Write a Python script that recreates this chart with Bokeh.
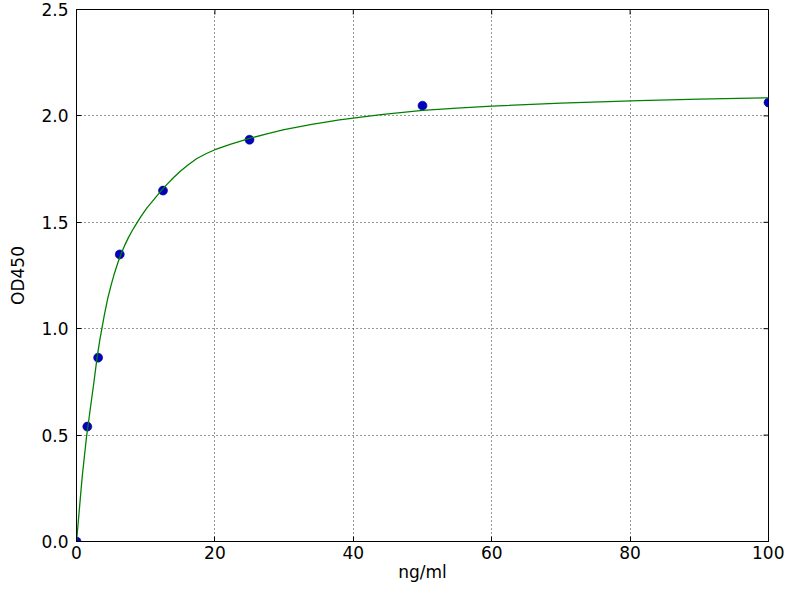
import math
from bokeh.plotting import figure
from bokeh.models import Range1d, FixedTicker, PrintfTickFormatter
from bokeh.embed import file_html
from bokeh.resources import INLINE

# Measured standards
conc = [0, 1.5625, 3.125, 6.25, 12.5, 25, 50, 100]
od = [0.0, 0.540, 0.864, 1.349, 1.649, 1.888, 2.048, 2.063]

# Fitted curve
fit_x = [0, 0.1, 0.45, 0.82, 1.44, 2.0, 2.5, 2.98, 3.36, 4.0, 4.5, 5.0, 5.5,
         6.0, 6.5, 7.0, 7.5, 8.0, 8.6, 9.3, 10.18, 11.2, 12.1, 13.0, 14.0,
         15.0, 16.2, 17.4, 18.7, 20.0, 22.2, 25.0, 27.5, 30.0, 34.0, 38.0,
         44.0, 50.0, 55.0, 60.0, 70.0, 81.3, 90.0, 100.0]
fit_y = [0.0, 0.035, 0.165, 0.303, 0.49, 0.625, 0.745, 0.865, 0.945, 1.06,
         1.14, 1.205, 1.262, 1.312, 1.356, 1.394, 1.428, 1.458, 1.49, 1.527,
         1.568, 1.608, 1.643, 1.676, 1.709, 1.740, 1.772, 1.80, 1.822, 1.841,
         1.866, 1.894, 1.916, 1.935, 1.960, 1.981, 2.006, 2.026, 2.037, 2.046,
         2.060, 2.072, 2.079, 2.085]

x_ticks = [0, 20, 40, 60, 80, 100]
y_ticks = [0.0, 0.5, 1.0, 1.5, 2.0, 2.5]
x_label = "ng/ml"
y_label = "OD450"

FONT = "DejaVu Sans"
FS = "17px"

p = figure(width=784, height=584, output_backend="svg", toolbar_location=None,
           x_range=Range1d(x_ticks[0], x_ticks[-1]), y_range=Range1d(y_ticks[0], y_ticks[-1]),
           min_border_left=76, min_border_right=16, min_border_top=9,
           min_border_bottom=38)
p.background_fill_color = "white"
p.border_fill_color = "white"
p.outline_line_color = "black"
p.outline_line_width = 1
p.outline_line_alpha = 1.0

# Axes
for ax, ticks in ((p.xaxis[0], x_ticks), (p.yaxis[0], y_ticks)):
    ax.ticker = FixedTicker(ticks=ticks)
    ax.major_tick_in = 5
    ax.major_tick_out = 0
    ax.minor_tick_line_color = None
    ax.axis_line_color = "black"
    ax.major_tick_line_color = "black"
    ax.major_label_text_font = FONT
    ax.major_label_text_font_size = FS
    ax.major_label_text_color = "black"
    ax.axis_label_text_font = FONT
    ax.axis_label_text_font_size = FS
    ax.axis_label_text_font_style = "normal"
    ax.axis_label_text_color = "black"

p.xaxis[0].axis_label = x_label
p.xaxis[0].major_label_standoff = 4
p.xaxis[0].axis_label_standoff = 0
p.yaxis[0].axis_label = y_label
p.yaxis[0].major_label_standoff = 8
p.yaxis[0].axis_label_standoff = 10
p.yaxis[0].formatter = PrintfTickFormatter(format="%.1f")

# Grid
for g, ticks in ((p.xgrid[0], x_ticks), (p.ygrid[0], y_ticks)):
    g.ticker = FixedTicker(ticks=ticks)
    g.grid_line_color = "black"
    g.grid_line_dash = "1 3"
    g.grid_line_width = 1
    g.grid_line_alpha = 0.8

# mirrored inward tick marks on the top and right edges (half clipped by the frame)
p.scatter(x_ticks, [y_ticks[-1]] * len(x_ticks), marker="dash", angle=math.pi / 2,
          size=10, line_color="black", line_width=1)
p.scatter([x_ticks[-1]] * len(y_ticks), y_ticks, marker="dash",
          size=10, line_color="black", line_width=1)

p.scatter(conc, od, size=9, fill_color="#0000c0", line_color="#000080", line_width=0.6)
p.line(fit_x, fit_y, line_color="#008000", line_width=1.3)

open("out.html", "w").write(file_html(p, INLINE))
